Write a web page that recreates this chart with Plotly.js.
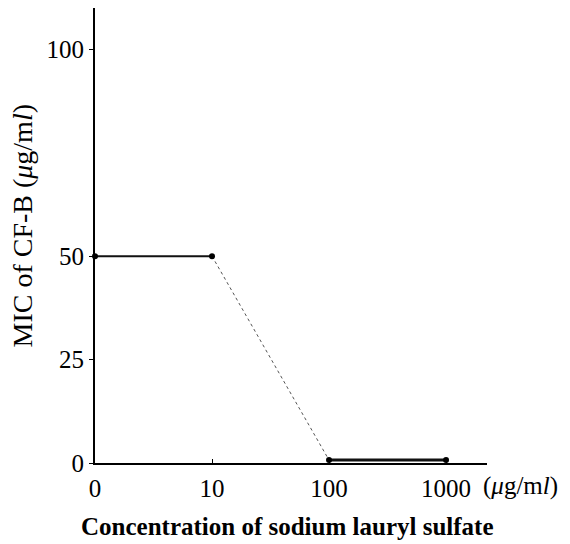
<!DOCTYPE html>
<html>
<head>
<meta charset="utf-8">
<script src="https://cdn.plot.ly/plotly-3.0.1.min.js"></script>
<style>html,body{margin:0;padding:0;background:#fff;}#chart{width:570px;height:544px;}</style>
</head>
<body>
<div id="chart"></div>
<script>
// Data
const concentrations = ['0', '10', '100', '1000'];
const micValues = [50, 50, 0.7, 0.7];
const yTickValues = [0, 25, 50, 100];
const yTickLabels = ['0', '25', '50', '100'];
const xTitle = 'Concentration of sodium lauryl sulfate';
const yTitle = 'MIC of CF-B (<i>μ</i>g/m<i>l</i>)';
const xUnit = '(<i>μ</i>g/m<i>l</i>)';

const FONT = 'Liberation Serif';

const traces = [
  { // solid segment 0 -> 10
    x: concentrations.slice(0, 2), y: micValues.slice(0, 2),
    mode: 'lines', line: {color: '#111', width: 2}, cliponaxis: false, hoverinfo: 'skip'
  },
  { // dotted segment 10 -> 100
    x: concentrations.slice(1, 3), y: micValues.slice(1, 3),
    mode: 'lines', line: {color: '#555', width: 1, dash: 'dot'}, cliponaxis: false, hoverinfo: 'skip'
  },
  { // thick segment 100 -> 1000
    x: concentrations.slice(2, 4), y: micValues.slice(2, 4),
    mode: 'lines', line: {color: '#111', width: 3}, cliponaxis: false, hoverinfo: 'skip'
  },
  { // markers
    x: concentrations, y: micValues,
    mode: 'markers', marker: {color: '#000', size: 6, symbol: 'circle'}, cliponaxis: false
  }
];

const layout = {
  width: 570, height: 544,
  margin: {l: 95, r: 83, t: 8, b: 81},
  paper_bgcolor: '#fff', plot_bgcolor: '#fff',
  showlegend: false,
  font: {family: FONT, color: '#000', size: 24},
  xaxis: {
    type: 'category',
    range: [0, 3.35],
    showgrid: false, zeroline: false,
    showline: true, linecolor: '#000', linewidth: 2,
    ticks: 'inside', ticklen: 4, tickcolor: '#000',
    tickfont: {family: FONT, size: 25, color: '#000'},
    ticklabelstandoff: 2
  },
  yaxis: {
    range: [0, 110],
    tickvals: yTickValues, ticktext: yTickLabels,
    showgrid: false, zeroline: false,
    showline: true, linecolor: '#000', linewidth: 2,
    ticks: 'outside', ticklen: 4, tickcolor: '#000',
    tickfont: {family: FONT, size: 25, color: '#000'}
  },
  annotations: [
    {text: yTitle, xref: 'paper', yref: 'paper', x: -0.185, y: 0.523,
     xanchor: 'center', yanchor: 'middle', textangle: -90, showarrow: false,
     font: {family: FONT, size: 28, color: '#000'}},
    {text: xTitle, xref: 'paper', yref: 'paper', x: 0.49, y: -0.14,
     xanchor: 'center', yanchor: 'middle', showarrow: false,
     font: {family: FONT, size: 25, color: '#000', weight: 'bold'}},
    {text: xUnit, xref: 'paper', yref: 'paper', x: 0.985, y: -0.05,
     xanchor: 'left', yanchor: 'middle', showarrow: false,
     font: {family: FONT, size: 25, color: '#000'}}
  ]
};

Plotly.newPlot('chart', traces, layout, {displayModeBar: false, staticPlot: true});
</script>
</body>
</html>
